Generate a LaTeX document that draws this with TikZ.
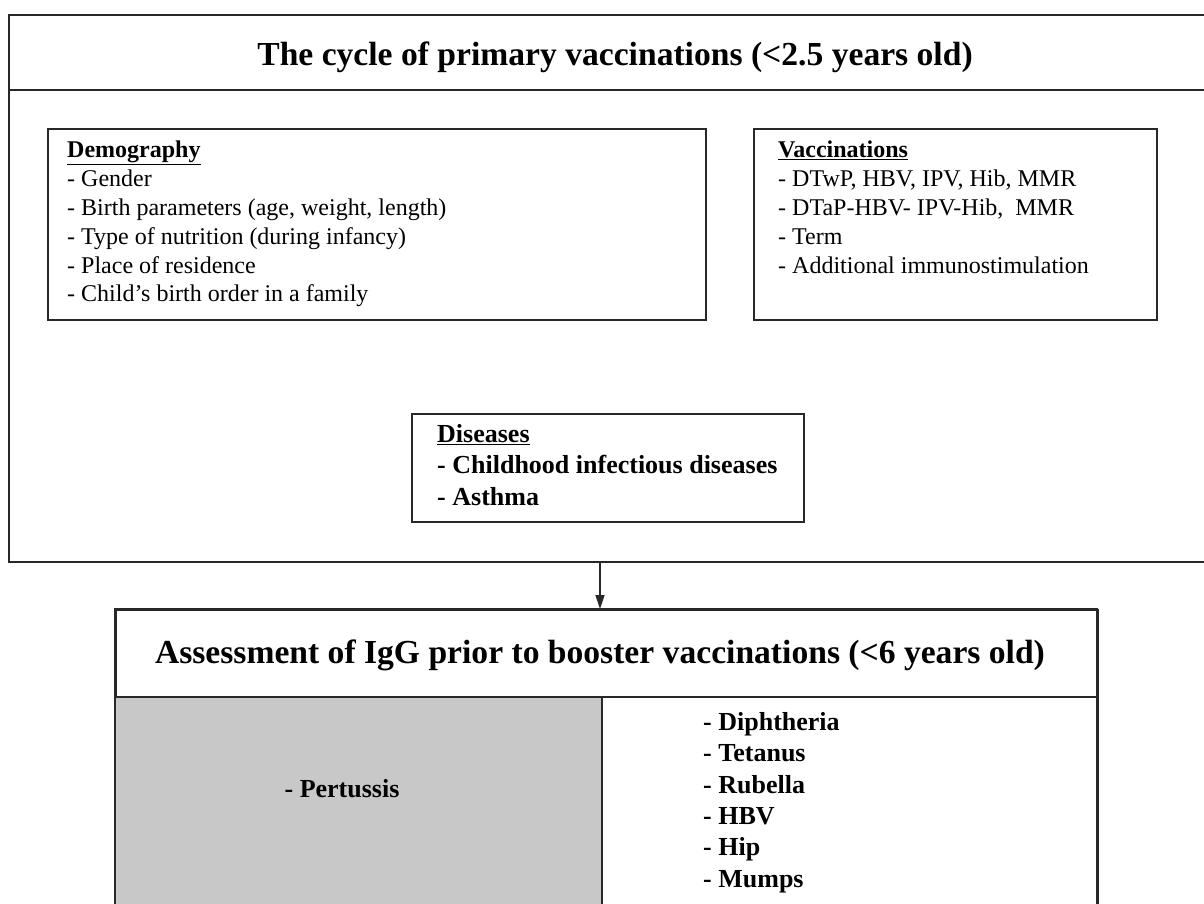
\documentclass[tikz,border=0pt]{standalone}
\usepackage{fontspec}
\setmainfont{Liberation Serif}
\usetikzlibrary{arrows.meta}
\definecolor{cellgray}{RGB}{200,200,200}
\definecolor{linegray}{RGB}{40,40,40}
\tikzset{
  frame/.style={draw=linegray, line width=1.6pt, inner sep=0pt, anchor=north west},
  bodytext/.style={anchor=north west, inner sep=0pt, align=left, font=\fontsize{24}{28.8}\selectfont},
  boldlist/.style={anchor=north west, inner sep=0pt, align=left, font=\fontsize{26}{31.4}\selectfont\bfseries},
  titletext/.style={inner sep=0pt, anchor=base, font=\fontsize{33.6}{40}\selectfont\bfseries},
  conn/.style={draw=linegray, line width=1.4pt, -{Triangle[length=14pt,width=9pt]}},
}
\begin{document}
\begin{tikzpicture}[x=1pt,y=-1pt]
\clip (0,0) rectangle (1204,904);
\fill[white] (0,0) rectangle (1204,904);
% top box
\node[frame, minimum width=1214pt, minimum height=547pt] (topbox) at (8,14) {};
\draw[linegray, line width=1.6pt] (8,90) -- (1222,90);
\node[titletext] (title1) at (615,66) {The cycle of primary vaccinations (<2.5 years old)};
% demography
\node[frame, minimum width=658pt, minimum height=191pt] (demobox) at (47,128) {};
\node[bodytext] (demotext) at (67,141) {\textbf{\underline{Demography}}\\- Gender\\- Birth parameters (age, weight, length)\\- Type of nutrition (during infancy)\\- Place of residence\\- Child’s birth order in a family};
% vaccinations
\node[frame, minimum width=403pt, minimum height=191pt] (vaccbox) at (753,128) {};
\node[bodytext] (vacctext) at (778,141) {\textbf{\underline{Vaccinations}}\\- DTwP, HBV, IPV, Hib, MMR\\- DTaP-HBV- IPV-Hib,\ \ MMR\\- Term\\- Additional immunostimulation};
% diseases
\node[frame, minimum width=392pt, minimum height=108pt] (disbox) at (411,413) {};
\node[boldlist] (distext) at (437,424) {\underline{Diseases}\\- Childhood infectious diseases\\- Asthma};
% bottom box
\node[frame, minimum width=982pt, minimum height=320pt] (botbox) at (115,609) {};
\fill[cellgray] (115,697) rectangle (602,930);
\draw[linegray, line width=1.6pt] (115,697) -- (1097,697);
\draw[linegray, line width=1.6pt] (602,697) -- (602,930);
\draw[linegray, line width=1.6pt] (115,609) rectangle (1097,940);
\node[titletext] (title2) at (600,663) {Assessment of IgG prior to booster vaccinations (<6 years old)};
\node[inner sep=0pt, anchor=base, font=\fontsize{26}{31.4}\selectfont\bfseries] (pert) at (342,797) {- Pertussis};
\node[boldlist] (list) at (703,712) {- Diphtheria\\- Tetanus\\- Rubella\\- HBV\\- Hip\\- Mumps};
% arrow
\coordinate (ax) at (600,0);
\draw[conn] (topbox.south -| ax) -- (botbox.north -| ax);
\end{tikzpicture}
\end{document}
